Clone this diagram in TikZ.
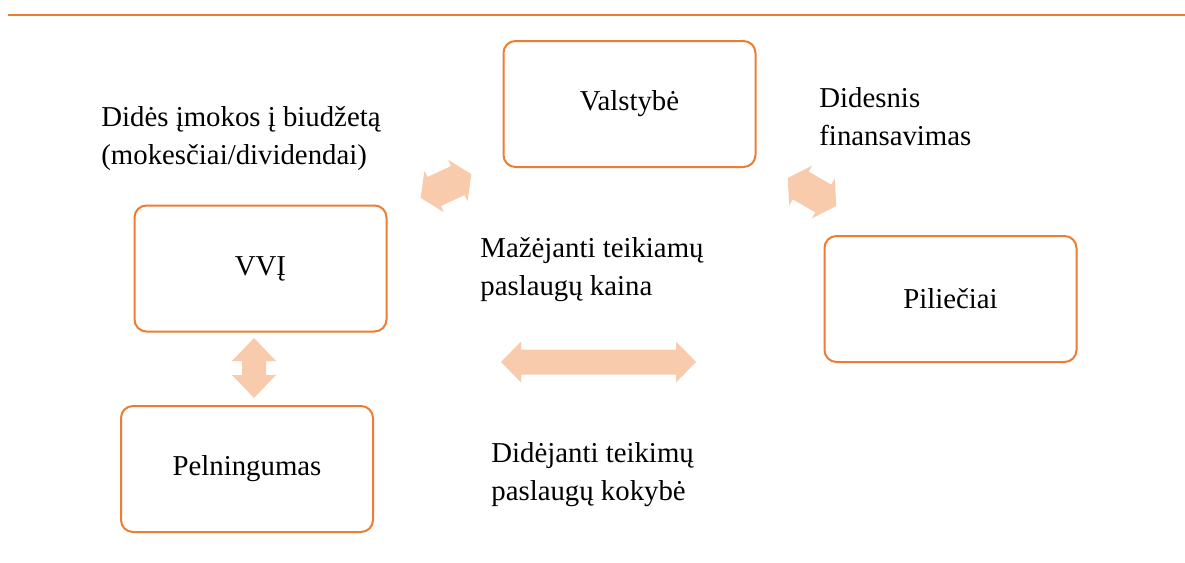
\documentclass[tikz,border=0pt]{standalone}
\usepackage{fontspec}
\setmainfont{Liberation Serif}
\definecolor{linienorange}{HTML}{ED7D31}
\definecolor{pfeilorange}{HTML}{F8CBAD}
\tikzset{
	kasten/.style={draw=linienorange, line width=1pt, rounded corners=6pt, minimum width=126pt, minimum height=63pt, inner sep=0pt},
	beschriftung/.style={anchor=base west, align=left, inner sep=0pt},
	pfeil/.style={fill=pfeilorange}
}
\begin{document}
\begin{tikzpicture}[x=0.5pt, y=-0.5pt, font=\fontsize{14.4pt}{19pt}\selectfont]
		\useasboundingbox (0,0) rectangle (1185,563);
		% Linie oben
		\draw [linienorange, line width=1.25pt] (8,15) -- (1185,15);
		% Kaesten
		\node [kasten] (valstybe) at (629.5,104) {Valstybė};
		\node [kasten] (vvi) at (260.5,268.5) {VVĮ};
		\node [kasten] (pilieciai) at (950.5,299) {Piliečiai};
		\node [kasten] (pelningumas) at (247,469) {Pelningumas};
		% Doppelpfeile
		\begin{scope}[shift={(254,368)}, rotate=90]
			\fill [pfeil] (-30,0) -- (-7,22) -- (-7,12) -- (7,12) -- (7,22) -- (30,0) -- (7,-22) -- (7,-12) -- (-7,-12) -- (-7,-22) -- cycle;
		\end{scope}
		\begin{scope}[shift={(598.5,362)}]
			\fill [pfeil] (-97.5,0) -- (-77.5,20.5) -- (-77.5,12.5) -- (77.5,12.5) -- (77.5,20.5) -- (97.5,0) -- (77.5,-20.5) -- (77.5,-12.5) -- (-77.5,-12.5) -- (-77.5,-20.5) -- cycle;
		\end{scope}
		\begin{scope}[shift={(446,186)}, rotate=25]
			\fill [pfeil] (-28,0) -- (-13,23) -- (-13,16) -- (13,16) -- (13,23) -- (28,0) -- (13,-23) -- (13,-16) -- (-13,-16) -- (-13,-23) -- cycle;
		\end{scope}
		\begin{scope}[shift={(812,192)}, rotate=-30]
			\fill [pfeil] (-28,0) -- (-13,23) -- (-13,16) -- (13,16) -- (13,23) -- (28,0) -- (13,-23) -- (13,-16) -- (-13,-16) -- (-13,-23) -- cycle;
		\end{scope}
		% Beschriftungen (Anker an der letzten Zeile)
		\node [beschriftung] (imokos) at (101,164) {Didės įmokos į biudžetą\\(mokesčiai/dividendai)};
		\node [beschriftung] (finansavimas) at (819,145) {Didesnis\\finansavimas};
		\node [beschriftung] (kaina) at (480,295) {Mažėjanti teikiamų\\paslaugų kaina};
		\node [beschriftung] (kokybe) at (491,500) {Didėjanti teikimų\\paslaugų kokybė};
\end{tikzpicture}
\end{document}
